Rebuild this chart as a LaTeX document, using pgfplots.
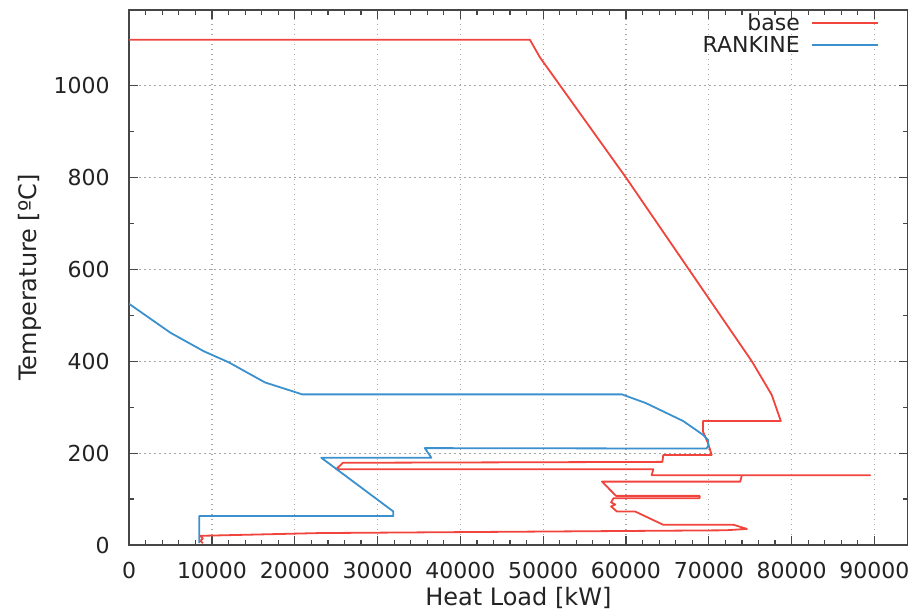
\documentclass[border=0pt]{standalone}
\usepackage{pgfplots}
\pgfplotsset{compat=1.18}
\usepackage{fontspec}
\setmainfont{DejaVu Sans}
\definecolor{basered}{RGB}{240,68,60}
\definecolor{rankblue}{RGB}{58,145,205}
\definecolor{framegray}{RGB}{70,70,70}
\definecolor{txt}{RGB}{35,35,35}
\begin{document}
\begin{tikzpicture}
\path[use as bounding box] (0,0) rectangle (919pt,611pt);
\begin{axis}[
  at={(129.2pt,66pt)}, anchor=south west,
  width=778.3pt, height=535pt, scale only axis,
  xmin=0, xmax=94000, ymin=0, ymax=1165,
  xtick={0,10000,...,90000}, ytick={0,200,...,1000},
  minor x tick num=4, minor y tick num=1,
  tick align=inside, major tick length=9pt, minor tick length=5pt,
  scaled x ticks=false, scaled y ticks=false,
  /pgf/number format/.cd, fixed, 1000 sep={}, assume math mode=true,
  /pgfplots/.cd,
  tick label style={font=\fontsize{22}{26}\selectfont, text=txt},
  xticklabel style={yshift=-14pt},
  yticklabel style={xshift=-16pt},
  label style={font=\fontsize{24}{28}\selectfont, text=txt},
  axis line style={framegray, line width=1.6pt},
  every tick/.style={framegray, line width=1.2pt},
  grid=major,
  major grid style={gray!70, line width=1.2pt, dash pattern=on 1.4pt off 3.6pt},
  xlabel={Heat Load [kW]},
  ylabel={Temperature [ºC]},
  xlabel style={at={(axis description cs:0.5,-0.099)}, anchor=center},
  ylabel style={at={(axis description cs:-0.127,0.5)}, anchor=center},
  legend plot pos=right,
  legend cell align=right,
  legend style={at={(axis description cs:0.967,1.0)}, anchor=north east, draw=none, fill=none,
    font=\fontsize{22}{26}\selectfont, text=txt, row sep=0pt,
    /tikz/every even column/.append style={column sep=12pt}},
  legend image code/.code={\draw[#1] (0pt,0pt) -- (66pt,0pt);},
]
\addplot[basered, line width=1.8pt, line join=round] coordinates {
(0,1100) (48400,1100) (49600,1062) (60000,800) (75200,400) (77600,327)
(78700,270) (69300,270) (69300,247) (69900,222) (70350,196) (64500,196) (64400,181)
(25800,179) (25000,165) (63300,165) (63100,152) (89500,152) (74000,152) (73800,138)
(57100,138) (58800,107) (68900,107) (68900,102) (58500,102) (58200,93) (58700,88)
(58200,84) (58900,73) (61100,73) (64500,44) (73000,44) (74600,35) (72000,32)
(23000,26) (8600,20) (8900,14) (8600,9) (8900,4)
};
\addlegendentry{base\rule{9pt}{0pt}}
\addplot[rankblue, line width=1.8pt, line join=round] coordinates {
(0,525) (5000,462) (9000,422) (12000,398) (16400,354) (20900,328) (59500,328)
(62400,309) (66900,270) (69300,240) (69900,229) (69950,215) (69700,210)
(35700,211) (36500,190) (23200,190) (31900,73) (31900,63) (8450,63) (8450,4)
};
\addlegendentry{RANKINE\rule{9pt}{0pt}}
\end{axis}
\end{tikzpicture}
\end{document}
